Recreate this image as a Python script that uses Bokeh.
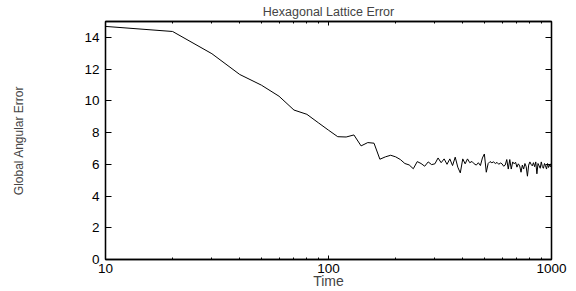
from bokeh.plotting import figure
from bokeh.models import FixedTicker, LogAxis, LinearAxis, Range1d, NumeralTickFormatter
from bokeh.embed import file_html
from bokeh.resources import INLINE

time = list(range(10, 1001, 10))
error = [
    14.69, 14.37, 12.97, 11.66, 10.99, 10.29, 9.42, 9.15, 8.62, 8.15,
    7.74, 7.72, 7.85, 7.16, 7.37, 7.33, 6.32, 6.47, 6.57, 6.47,
    6.30, 6.05, 5.96, 5.72, 6.17, 6.05, 5.88, 6.15, 5.98, 6.03,
    6.40, 6.10, 6.34, 6.00, 6.34, 5.92, 6.45, 5.82, 5.46, 6.34,
    6.03, 6.34, 6.10, 6.18, 6.03, 5.95, 6.10, 5.92, 6.40, 6.65,
    5.50, 6.05, 6.17, 6.10, 6.15, 6.05, 6.12, 6.00, 6.08, 6.03,
    5.88, 5.95, 6.30, 5.70, 6.30, 5.70, 6.15, 6.03, 6.13, 5.82,
    6.03, 5.90, 5.50, 5.95, 5.70, 6.05, 5.85, 5.25, 5.95, 6.15,
    6.00, 5.90, 6.10, 5.85, 6.15, 5.40, 6.05, 5.90, 5.75, 6.15,
    5.85, 5.75, 6.05, 5.90, 5.70, 6.05, 5.80, 5.95, 5.85, 6.10,
]
x_major = [10, 100, 1000]
x_minor = [20, 30, 40, 50, 60, 70, 80, 90, 200, 300, 400, 500, 600, 700, 800, 900]
y_major = [0, 2, 4, 6, 8, 10, 12, 14]

FONT = "Liberation Sans"

p = figure(width=576, height=291, x_axis_type="log",
           x_range=Range1d(10, 1000), y_range=Range1d(0, 15),
           output_backend="svg", toolbar_location=None,
           min_border_left=105, min_border_right=25,
           min_border_top=20, min_border_bottom=32,
           title="Hexagonal Lattice Error")

p.title.align = "center"
p.title.text_font = FONT
p.title.text_font_size = "12.5px"
p.title.text_font_style = "normal"
p.title.standoff = 5
p.title.offset = 0

p.xgrid.visible = False
p.ygrid.visible = False
p.outline_line_color = "black"
p.outline_line_width = 1.3
p.background_fill_color = "white"
p.border_fill_color = "white"

xt = FixedTicker(ticks=x_major, minor_ticks=x_minor)
yt = FixedTicker(ticks=y_major, minor_ticks=[])


def hide_labels(ax):
    ax.major_label_text_font_size = "1px"
    ax.major_label_text_alpha = 0
    ax.major_label_standoff = 0


def style_x(ax, labels=True):
    ax.ticker = xt
    ax.formatter = NumeralTickFormatter(format="0")
    ax.major_tick_in = 4
    ax.major_tick_out = 0
    ax.minor_tick_in = 2
    ax.minor_tick_out = 0
    ax.major_tick_line_color = "black"
    ax.minor_tick_line_color = "black"
    ax.axis_line_color = "black"
    ax.axis_line_width = 1.3
    if labels:
        ax.major_label_text_font = FONT
        ax.major_label_text_font_size = "13.5px"
        ax.major_label_text_color = "black"
        ax.major_label_standoff = 4
    else:
        hide_labels(ax)


def style_y(ax, labels=True):
    ax.ticker = yt
    ax.major_tick_in = 6
    ax.major_tick_out = 0
    ax.minor_tick_in = 0
    ax.minor_tick_out = 0
    ax.major_tick_line_color = "black"
    ax.axis_line_color = "black"
    ax.axis_line_width = 1.3
    if labels:
        ax.major_label_text_font = FONT
        ax.major_label_text_font_size = "13.5px"
        ax.major_label_text_color = "black"
        ax.major_label_standoff = 6
    else:
        hide_labels(ax)


style_x(p.xaxis[0])
style_y(p.yaxis[0])

p.xaxis[0].axis_label = "Time"
p.xaxis[0].axis_label_text_font = FONT
p.xaxis[0].axis_label_text_font_size = "14px"
p.xaxis[0].axis_label_text_font_style = "normal"
p.xaxis[0].axis_label_standoff = -3

p.yaxis[0].axis_label = "Global Angular Error"
p.yaxis[0].axis_label_text_font = FONT
p.yaxis[0].axis_label_text_font_size = "12px"
p.yaxis[0].axis_label_text_font_style = "normal"
p.yaxis[0].axis_label_standoff = 55

top_ax = LogAxis()
style_x(top_ax, labels=False)
p.add_layout(top_ax, "above")

right_ax = LinearAxis()
style_y(right_ax, labels=False)
p.add_layout(right_ax, "right")

p.line(time, error, line_color="black", line_width=1)

open("out.html", "w").write(file_html(p, INLINE))
